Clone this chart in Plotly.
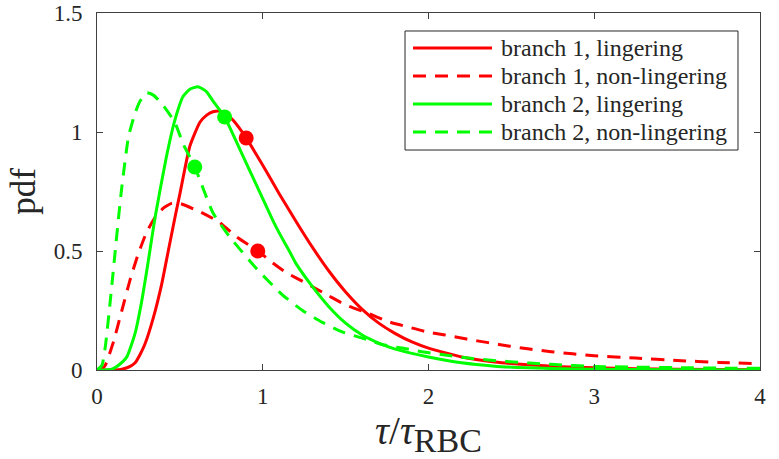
import plotly.graph_objects as go

# ---- data ----
b1_ling_x = [0, 0.10, 0.15, 0.20, 0.23, 0.26, 0.29, 0.34, 0.39, 0.43, 0.47, 0.50, 0.56, 0.62, 0.66, 0.70, 0.74, 0.78, 0.82, 0.90, 1.0, 1.1, 1.2, 1.3, 1.4, 1.5, 1.6, 1.7, 1.8, 1.9, 2.0, 2.2, 2.4, 2.6, 2.8, 3.0, 3.5, 4.0]
b1_ling_y = [0, 0.0, 0.003, 0.015, 0.03, 0.065, 0.11, 0.22, 0.36, 0.50, 0.64, 0.74, 0.94, 1.04, 1.07, 1.085, 1.088, 1.075, 1.05, 0.975, 0.86, 0.74, 0.625, 0.515, 0.415, 0.328, 0.255, 0.197, 0.153, 0.118, 0.092, 0.055, 0.034, 0.022, 0.014, 0.009, 0.003, 0.001]

b1_non_x = [0, 0.03, 0.05, 0.10, 0.15, 0.20, 0.25, 0.30, 0.35, 0.40, 0.45, 0.50, 0.62, 0.74, 0.84, 0.97, 1.06, 1.14, 1.26, 1.39, 1.50, 1.63, 1.75, 1.87, 1.99, 2.1, 2.23, 2.36, 2.49, 2.61, 2.74, 2.87, 3.0, 3.25, 3.5, 3.75, 4.0]
b1_non_y = [0, 0.005, 0.02, 0.12, 0.25, 0.38, 0.49, 0.58, 0.64, 0.68, 0.70, 0.70, 0.665, 0.62, 0.56, 0.50, 0.45, 0.41, 0.365, 0.315, 0.273, 0.24, 0.205, 0.182, 0.16, 0.147, 0.13, 0.115, 0.10, 0.088, 0.077, 0.068, 0.06, 0.05, 0.04, 0.032, 0.026]

b2_ling_x = [0, 0.05, 0.09, 0.13, 0.18, 0.23, 0.27, 0.31, 0.35, 0.42, 0.47, 0.52, 0.56, 0.61, 0.66, 0.70, 0.77, 0.86, 0.96, 1.06, 1.10, 1.16, 1.20, 1.30, 1.40, 1.50, 1.60, 1.70, 1.80, 1.90, 2.0, 2.2, 2.4, 2.6, 2.8, 3.0, 3.5, 4.0]
b2_ling_y = [0, 0.0, 0.003, 0.02, 0.055, 0.155, 0.29, 0.46, 0.64, 0.90, 1.05, 1.15, 1.18, 1.19, 1.17, 1.13, 1.063, 0.93, 0.78, 0.63, 0.575, 0.50, 0.448, 0.35, 0.265, 0.197, 0.147, 0.113, 0.088, 0.07, 0.055, 0.03, 0.016, 0.009, 0.005, 0.003, 0.001, 0.0]

b2_non_x = [0, 0.03, 0.05, 0.08, 0.11, 0.145, 0.19, 0.23, 0.26, 0.30, 0.34, 0.39, 0.47, 0.52, 0.59, 0.70, 0.80, 0.97, 1.12, 1.24, 1.36, 1.48, 1.60, 1.72, 1.84, 1.96, 2.10, 2.23, 2.36, 2.49, 2.61, 2.74, 2.87, 3.0, 3.25, 3.5, 3.75, 4.0]
b2_non_y = [0, 0.02, 0.097, 0.29, 0.50, 0.74, 0.98, 1.08, 1.13, 1.165, 1.155, 1.12, 1.04, 0.95, 0.853, 0.66, 0.56, 0.42, 0.315, 0.25, 0.20, 0.16, 0.134, 0.107, 0.092, 0.077, 0.063, 0.051, 0.042, 0.035, 0.029, 0.024, 0.019, 0.015, 0.012, 0.01, 0.008, 0.007]

# highlighted points on the curves
dots_red_x = [0.90, 0.97]
dots_red_y = [0.975, 0.50]
dots_green_x = [0.77, 0.59]
dots_green_y = [1.063, 0.853]

names = ["branch 1, lingering", "branch 1, non-lingering",
         "branch 2, lingering", "branch 2, non-lingering"]

x_ticks = [0, 1, 2, 3, 4]
y_ticks = [0, 0.5, 1, 1.5]
y_tick_text = ["0", "0.5", "1", "1.5"]

RED = "#FF0000"
GREEN = "#00FF00"
DASH = "13px,9px"
FONT = "Liberation Serif"
TXT = "#262626"

fig = go.Figure()
series = [
    (b1_ling_x, b1_ling_y, RED, "solid", names[0]),
    (b1_non_x, b1_non_y, RED, DASH, names[1]),
    (b2_ling_x, b2_ling_y, GREEN, "solid", names[2]),
    (b2_non_x, b2_non_y, GREEN, DASH, names[3]),
]
for xs, ys, col, dash, nm in series:
    fig.add_trace(go.Scatter(x=xs, y=ys, mode="lines", name=nm, showlegend=False,
                             line=dict(color=col, width=3, dash=dash, shape="spline", smoothing=0.5)))

fig.add_trace(go.Scatter(x=dots_red_x, y=dots_red_y, mode="markers", showlegend=False,
                         marker=dict(color=RED, size=15)))
fig.add_trace(go.Scatter(x=dots_green_x, y=dots_green_y, mode="markers", showlegend=False,
                         marker=dict(color=GREEN, size=15)))

axis_common = dict(showline=True, linecolor="#404040", linewidth=1, mirror="ticks",
                   ticks="inside", ticklen=6, tickcolor="#404040", showgrid=False,
                   zeroline=False, automargin=False, ticklabeloverflow="allow",
                   tickfont=dict(family=FONT, size=23, color=TXT))

fig.update_xaxes(range=[0, 4], tickvals=x_ticks, ticktext=[str(v) for v in x_ticks],
                 title=dict(text="<i>τ</i>/<i>τ</i><sub><span style=\"font-size:34px\">RBC</span></sub>",
                            font=dict(family=FONT, size=39, color=TXT), standoff=0),
                 ticklabelstandoff=5, **axis_common)
fig.update_yaxes(range=[0, 1.5], tickvals=y_ticks, ticktext=y_tick_text,
                 title=dict(text="pdf", font=dict(family=FONT, size=35, color=TXT), standoff=7),
                 ticklabelstandoff=9, **axis_common)

# ---- legend drawn in paper space (box, line samples, labels) ----
leg_x0, leg_x1, leg_y0, leg_y1 = 0.4646, 0.9668, 0.6162, 0.9496
row_y = [0.9020, 0.8235, 0.7451, 0.6667]
line_x0, line_x1, text_x = 0.4766, 0.5958, 0.6063
shapes = [dict(type="rect", xref="paper", yref="paper", x0=leg_x0, x1=leg_x1, y0=leg_y0, y1=leg_y1,
               line=dict(color=TXT, width=1), fillcolor="white", layer="above")]
annotations = []
for (xs, ys, col, dash, nm), ry in zip(series, row_y):
    shapes.append(dict(type="line", xref="paper", yref="paper", x0=line_x0, x1=line_x1, y0=ry, y1=ry,
                       line=dict(color=col, width=3, dash=dash), layer="above"))
    annotations.append(dict(xref="paper", yref="paper", x=text_x, y=ry, text=nm, showarrow=False,
                            xanchor="left", yanchor="middle",
                            font=dict(family=FONT, size=24, color=TXT)))

fig.update_layout(
    width=779, height=459,
    margin=dict(l=97, r=19, t=13, b=89),
    plot_bgcolor="white", paper_bgcolor="white",
    font=dict(family=FONT, size=20, color=TXT),
    showlegend=False,
    shapes=shapes, annotations=annotations,
)

# remove the page's default body margin so the figure fills the window exactly
fig.write_html("out.html", config={"displayModeBar": False},
               post_script="document.body.style.margin='0';")
